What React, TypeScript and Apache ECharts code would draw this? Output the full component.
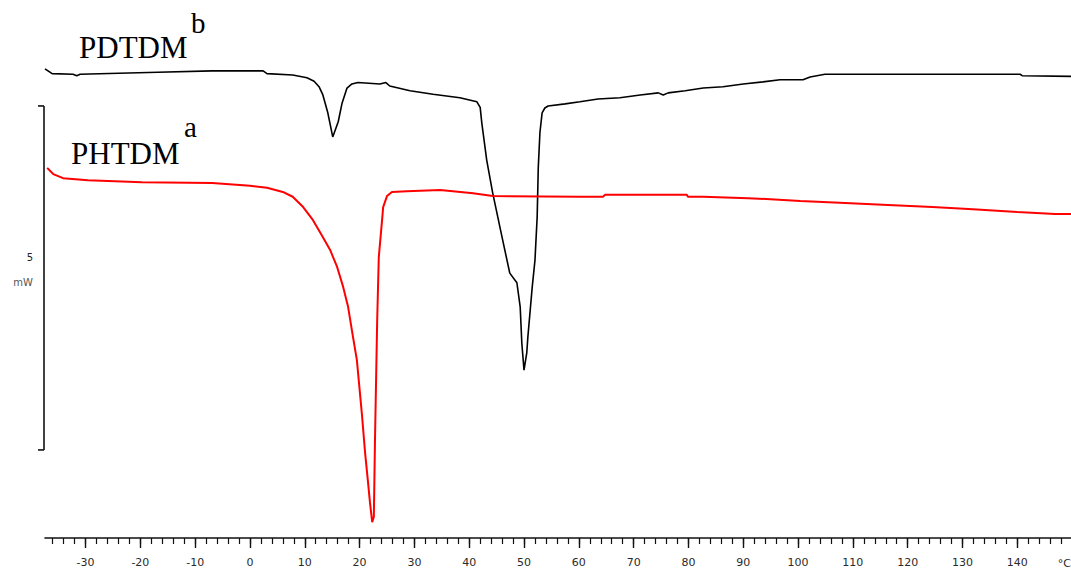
import React, { useEffect, useRef } from "react";
import * as echarts from "echarts";

// Temperature axis (°C)
const T_MIN = -37.4;
const T_MAX = 149.8;
// Heat flow axis (mW), hidden
const Q_MIN = 0;
const Q_MAX = 7.82;

const MAJOR_TICKS = [-30, -20, -10, 0, 10, 20, 30, 40, 50, 60, 70, 80, 90, 100, 110, 120, 130, 140];
const MINOR_STEP = 2;
const UNIT_LABEL = "°C";

// 5 mW scale bar
const SCALE_BAR_TOP = 6.28;
const SCALE_BAR_BOTTOM = 1.28;
const SCALE_BAR_VALUE = "5";
const SCALE_BAR_UNIT = "mW";

// PDTDM (black curve)
const T_PDTDM = [-37.4, -36.1, -32.3, -31.6, -31.0, -16.8, -6.9, 2.4, 3.1, 7.8, 10.4, 11.7, 12.6, 13.3, 14.2, 15.1, 16.1, 16.8, 17.7, 18.6, 19.7, 23.7, 24.8, 25.5, 29.2, 33.4, 38.3, 41.4, 42.0, 42.3, 43.2, 44.3, 46.0, 47.4, 48.7, 49.3, 49.6, 50.0, 50.5, 50.7, 51.5, 52.0, 52.4, 52.6, 52.9, 53.3, 53.8, 54.4, 57.5, 60.2, 63.5, 67.5, 71.2, 74.5, 75.4, 76.3, 79.4, 82.7, 86.3, 90.0, 93.6, 96.7, 100.9, 102.2, 104.9, 140.5, 140.9, 149.8];
const Q_PDTDM = [6.82, 6.75, 6.74, 6.72, 6.74, 6.77, 6.79, 6.79, 6.75, 6.73, 6.69, 6.64, 6.56, 6.44, 6.18, 5.83, 6.05, 6.32, 6.54, 6.60, 6.62, 6.60, 6.62, 6.57, 6.50, 6.45, 6.40, 6.34, 6.26, 6.03, 5.49, 5.01, 4.37, 3.85, 3.71, 3.36, 2.83, 2.44, 2.69, 2.92, 3.65, 4.04, 4.67, 5.38, 5.89, 6.18, 6.25, 6.28, 6.31, 6.34, 6.38, 6.40, 6.44, 6.47, 6.44, 6.47, 6.50, 6.54, 6.56, 6.60, 6.63, 6.66, 6.66, 6.70, 6.74, 6.74, 6.72, 6.71];

// PHTDM (red curve)
const T_PHTDM = [-37.0, -35.9, -34.1, -29.6, -19.7, -6.9, 0.0, 3.1, 6.0, 7.8, 9.7, 11.5, 13.1, 14.6, 15.9, 17.0, 17.9, 18.8, 19.5, 20.4, 21.0, 21.5, 21.9, 22.3, 22.6, 22.8, 23.2, 23.5, 24.1, 24.3, 25.0, 25.9, 28.6, 34.7, 40.7, 44.3, 60.2, 64.4, 64.8, 79.7, 79.9, 82.7, 90.9, 100.4, 108.6, 116.4, 124.5, 131.9, 140.0, 146.9, 149.8];
const Q_PHTDM = [5.38, 5.29, 5.23, 5.20, 5.17, 5.16, 5.12, 5.09, 5.03, 4.96, 4.81, 4.62, 4.40, 4.19, 3.94, 3.65, 3.36, 2.92, 2.59, 1.82, 1.24, 0.84, 0.51, 0.23, 0.31, 1.38, 3.13, 4.08, 4.62, 4.81, 4.97, 5.03, 5.04, 5.06, 5.01, 4.97, 4.96, 4.96, 4.99, 4.99, 4.96, 4.96, 4.94, 4.90, 4.87, 4.84, 4.81, 4.78, 4.74, 4.71, 4.71];

const LABEL_B = { name: "PDTDM", sup: "b" };
const LABEL_A = { name: "PHTDM", sup: "a" };

function minorTicks(): number[] {
  const out: number[] = [];
  const start = Math.ceil(T_MIN / MINOR_STEP) * MINOR_STEP;
  for (let v = start; v <= T_MAX; v += MINOR_STEP) out.push(v);
  return out;
}

export default function App() {
  const ref = useRef<HTMLDivElement>(null);
  useEffect(() => {
    if (!ref.current) return;
    const chart = echarts.init(ref.current, undefined, { renderer: "svg" });
    const axisColor = "#111";
    const serif = '"Liberation Serif", "Times New Roman", serif';
    chart.setOption({
      animation: false,
      backgroundColor: "#fff",
      grid: { left: 45, right: 0, top: 0, bottom: 32, outerBoundsMode: "none", containLabel: false },
      xAxis: [
        {
          type: "value",
          min: T_MIN,
          max: T_MAX,
          position: "bottom",
          axisLine: { show: true, lineStyle: { color: axisColor, width: 1.6 } },
          axisTick: { show: true, length: 10, customValues: MAJOR_TICKS, lineStyle: { color: axisColor, width: 1.4 } },
          axisLabel: {
            show: true,
            customValues: MAJOR_TICKS,
            margin: 19,
            color: "#2a2a2a",
            fontSize: 11,
            fontFamily: '"DejaVu Sans", sans-serif',
          },
          splitLine: { show: false },
        },
        {
          type: "value",
          min: T_MIN,
          max: T_MAX,
          position: "bottom",
          axisLine: { show: false },
          axisTick: { show: true, length: 6, customValues: minorTicks(), lineStyle: { color: axisColor, width: 1.2 } },
          axisLabel: { show: false },
          splitLine: { show: false },
        },
      ],
      yAxis: { type: "value", min: Q_MIN, max: Q_MAX, show: false },
      series: [
        {
          name: LABEL_B.name,
          type: "line",
          xAxisIndex: 0,
          showSymbol: false,
          data: T_PDTDM.map((t, i) => [t, Q_PDTDM[i]]),
          lineStyle: { color: "#000", width: 1.6 },
          itemStyle: { color: "#000" },
        },
        {
          name: LABEL_A.name,
          type: "line",
          xAxisIndex: 0,
          showSymbol: false,
          data: T_PHTDM.map((t, i) => [t, Q_PHTDM[i]]),
          lineStyle: { color: "#ff0000", width: 2 },
          itemStyle: { color: "#ff0000" },
        },
      ],
    });

    const pTop = chart.convertToPixel({ gridIndex: 0 }, [T_MIN, SCALE_BAR_TOP]) as number[];
    const pBot = chart.convertToPixel({ gridIndex: 0 }, [T_MIN, SCALE_BAR_BOTTOM]) as number[];
    const barX = pTop[0] - 1;
    const yTop = pTop[1];
    const yBot = pBot[1];
    const yMid = (yTop + yBot) / 2;
    const barStyle = { stroke: "#111", lineWidth: 1.6 };

    chart.setOption({
      graphic: [
        { type: "line", shape: { x1: barX, y1: yTop, x2: barX, y2: yBot }, style: barStyle },
        { type: "line", shape: { x1: barX - 6, y1: yTop, x2: barX, y2: yTop }, style: barStyle },
        { type: "line", shape: { x1: barX - 6, y1: yBot, x2: barX, y2: yBot }, style: barStyle },
        {
          type: "text", x: barX - 11, y: yMid - 20,
          style: { text: SCALE_BAR_VALUE, font: '10px "DejaVu Sans"', fill: "#222", align: "right", verticalAlign: "middle", textAlign: "right", textVerticalAlign: "middle" },
        },
        {
          type: "text", x: barX - 11, y: yMid + 5,
          style: { text: SCALE_BAR_UNIT, font: '10px "DejaVu Sans"', fill: "#555", align: "right", verticalAlign: "middle", textAlign: "right", textVerticalAlign: "middle" },
        },
        {
          type: "text", x: 1071, y: 563,
          style: { text: UNIT_LABEL, font: '11px "DejaVu Sans"', fill: "#2a2a2a", align: "right", verticalAlign: "middle", textAlign: "right", textVerticalAlign: "middle" },
        },
        {
          type: "text", x: 79, y: 47,
          style: { text: LABEL_B.name, font: `31px ${serif}`, fill: "#000", align: "left", verticalAlign: "middle", textAlign: "left", textVerticalAlign: "middle" },
        },
        {
          type: "text", x: 191, y: 23,
          style: { text: LABEL_B.sup, font: `29px ${serif}`, fill: "#000", align: "left", verticalAlign: "middle", textAlign: "left", textVerticalAlign: "middle" },
        },
        {
          type: "text", x: 71, y: 153,
          style: { text: LABEL_A.name, font: `31px ${serif}`, fill: "#000", align: "left", verticalAlign: "middle", textAlign: "left", textVerticalAlign: "middle" },
        },
        {
          type: "text", x: 184, y: 127,
          style: { text: LABEL_A.sup, font: `29px ${serif}`, fill: "#000", align: "left", verticalAlign: "middle", textAlign: "left", textVerticalAlign: "middle" },
        },
      ],
    });

    return () => chart.dispose();
  }, []);

  return (
    <div
      ref={ref}
      style={{ position: "fixed", left: 0, top: 0, width: 1071, height: 570, background: "#fff" }}
    />
  );
}
